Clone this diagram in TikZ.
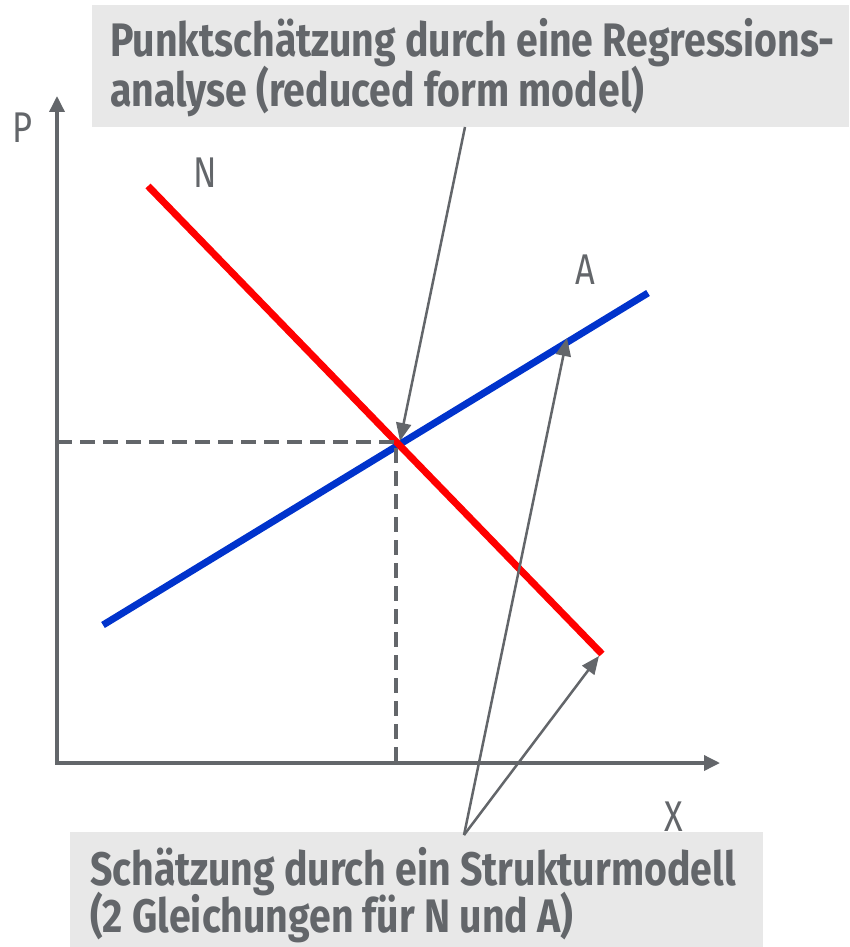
\documentclass[tikz,border=0pt]{standalone}
\usepackage{fontspec}
\setmainfont{Fira Sans}
\newfontfamily\boxfont[FakeStretch=0.835]{Fira Sans}
\newfontfamily\axfont[FakeStretch=0.8]{Fira Sans}
\usetikzlibrary{arrows.meta}
\definecolor{ink}{RGB}{99,102,106}
\definecolor{boxgray}{RGB}{232,232,232}
\definecolor{nred}{RGB}{255,0,0}
\definecolor{ablue}{RGB}{0,51,204}
\begin{document}
\begin{tikzpicture}[x=1pt,y=-1pt,
 axis/.style={draw=ink,line width=3.5pt,{Triangle[length=16pt,width=15pt]}-{Triangle[length=16pt,width=15pt]}},
 pointer/.style={draw=ink,line width=2.5pt,-{Triangle[length=18pt,width=15pt]}},
 guide/.style={draw=ink,line width=3.2pt,dash pattern=on 15pt off 8pt},
 curve/.style={line width=7pt},
 panel/.style={fill=boxgray,inner sep=0pt,anchor=north west},
 boxtext/.style={text=ink,font=\boxfont\bfseries\fontsize{47}{50}\selectfont,anchor=base west,inner sep=0pt},
 axlabel/.style={text=ink,font=\axfont\fontsize{43}{48}\selectfont,inner sep=0pt}
]
\useasboundingbox (0,0) rectangle (849,947);
% panels
\node[panel,minimum width=757pt,minimum height=122pt] (topbox) at (92,5) {};
\node[panel,minimum width=693pt,minimum height=115pt] (botbox) at (70,832) {};
\node[boxtext] (t1) at (110,57) {Punktschätzung durch eine Regressions-};
\node[boxtext] (t2) at (110,107) {analyse (reduced form model)};
\node[boxtext] (b1) at (90,885) {Schätzung durch ein Strukturmodell};
\node[boxtext] (b2) at (90,932) {(2 Gleichungen für N und A)};
% coordinates
\coordinate (O) at (57,763);
\coordinate (Ytip) at (57,96);
\coordinate (Xtip) at (720,763);
\coordinate (N1) at (148,186);
\coordinate (N2) at (602,654);
\coordinate (A1) at (103,625);
\coordinate (A2) at (648,293);
\coordinate (E) at (396,442);
\coordinate (Py) at (57,442);
\coordinate (Px) at (396,763);
\coordinate (tA) at (465,127);
\coordinate (bA) at (464,835);
\coordinate (Etip) at (400,441);
\coordinate (Atip) at (567,338);
\coordinate (Ntip) at (599,656);
% axes
\draw[axis] (Ytip) -- (O) -- (Xtip);
% labels
\node[axlabel] (P) at (22,128) {P};
\node[axlabel] (N) at (205,173) {N};
\node[axlabel] (A) at (585,270) {A};
\node[axlabel] (X) at (674,817) {X};
% curves
\draw[curve,ablue] (A1) -- (A2);
\draw[curve,nred] (N1) -- (N2);
% guides
\draw[guide] (Py) -- (E) -- (Px);
% pointers
\draw[pointer] (tA) -- (Etip);
\draw[pointer] (bA) -- (Atip);
\draw[pointer] (bA) -- (Ntip);
\end{tikzpicture}
\end{document}
